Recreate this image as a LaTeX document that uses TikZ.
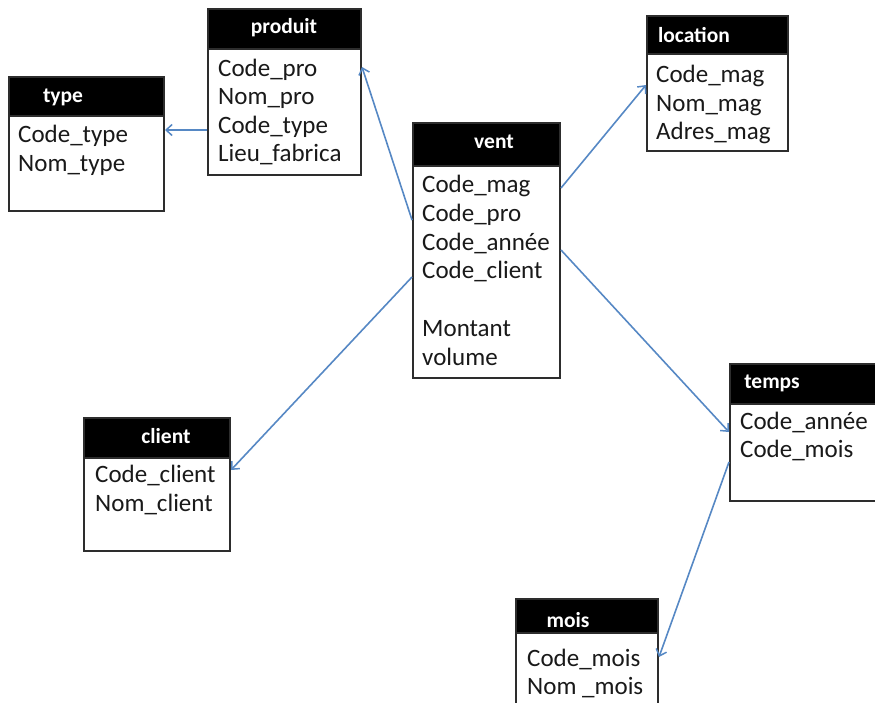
\documentclass[tikz,border=0pt]{standalone}
\usepackage{fontspec}
\setmainfont{Carlito}
\usetikzlibrary{arrows.meta}
\definecolor{linkblue}{RGB}{86,136,196}
\definecolor{boxline}{RGB}{45,45,45}
\tikzset{
  tablebox/.style={draw=boxline, line width=2pt, fill=white, anchor=north west, inner sep=0pt},
  tablehead/.style={draw=boxline, line width=2pt, fill=black, anchor=north west, inner sep=0pt},
  tabletitle/.style={text=white, font=\fontsize{21.5}{24}\selectfont\bfseries, inner sep=0pt, anchor=center},
  field/.style={font=\fontsize{25}{28}\selectfont, text=black!90, inner sep=0pt, anchor=base west},
  link/.style={draw=linkblue, line width=1.6pt, -{Straight Barb[length=6pt,width=11pt,line width=1.5pt]}}
}
\begin{document}
\begin{tikzpicture}[x=1pt,y=-1pt]
\useasboundingbox (0,0) rectangle (875,702);

% produit
\node[tablebox, minimum width=153pt, minimum height=166pt] (produit) at (207,8) {};
\node[tablehead, minimum width=153pt, minimum height=40pt] (produit-h) at (produit.north west) {};
\node[tabletitle] (produit-t) at (284,28) {produit};
\node[field] (produit-1) at (218,76) {Code\_pro};
\node[field] (produit-2) at (218,104.5) {Nom\_pro};
\node[field] (produit-3) at (218,133) {Code\_type};
\node[field] (produit-4) at (218,161.5) {Lieu\_fabrica};

% type
\node[tablebox, minimum width=155pt, minimum height=134pt] (type) at (8,76) {};
\node[tablehead, minimum width=155pt, minimum height=39pt] (type-h) at (type.north west) {};
\node[tabletitle] (type-t) at (63,97) {type};
\node[field] (type-1) at (18,142) {Code\_type};
\node[field] (type-2) at (18,171) {Nom\_type};

% vent
\node[tablebox, minimum width=147pt, minimum height=255pt] (vent) at (412,122) {};
\node[tablehead, minimum width=147pt, minimum height=43pt] (vent-h) at (vent.north west) {};
\node[tabletitle] (vent-t) at (494,142) {vent};
\node[field] (vent-1) at (422,192) {Code\_mag};
\node[field] (vent-2) at (422,221) {Code\_pro};
\node[field] (vent-3) at (422,250) {Code\_année};
\node[field] (vent-4) at (422,278) {Code\_client};
\node[field] (vent-5) at (422,336) {Montant};
\node[field] (vent-6) at (422,365) {volume};

% location
\node[tablebox, minimum width=141pt, minimum height=135pt] (location) at (646,15) {};
\node[tablehead, minimum width=141pt, minimum height=38pt] (location-h) at (location.north west) {};
\node[tabletitle] (location-t) at (694,35) {location};
\node[field] (location-1) at (656,82) {Code\_mag};
\node[field] (location-2) at (656,111) {Nom\_mag};
\node[field] (location-3) at (656,139.5) {Adres\_mag};

% temps
\node[tablebox, minimum width=150pt, minimum height=137pt] (temps) at (729,363) {};
\node[tablehead, minimum width=150pt, minimum height=40pt] (temps-h) at (temps.north west) {};
\node[tabletitle] (temps-t) at (772,383) {temps};
\node[field] (temps-1) at (740,429) {Code\_année};
\node[field] (temps-2) at (740,457.5) {Code\_mois};

% client
\node[tablebox, minimum width=146pt, minimum height=133pt] (client) at (83,417) {};
\node[tablehead, minimum width=146pt, minimum height=40pt] (client-h) at (client.north west) {};
\node[tabletitle] (client-t) at (166,436) {client};
\node[field] (client-1) at (95,482) {Code\_client};
\node[field] (client-2) at (95,511) {Nom\_client};

% mois
\node[tablebox, minimum width=142pt, minimum height=112pt] (mois) at (515,598) {};
\node[tablehead, minimum width=142pt, minimum height=34pt] (mois-h) at (mois.north west) {};
\node[tabletitle] (mois-t) at (568,620) {mois};
\node[field] (mois-1) at (527,666) {Code\_mois};
\node[field] (mois-2) at (527,694) {Nom \_mois};

% links between tables
\draw[link] ([yshift=-98pt]vent.north west) -- ([yshift=-59pt]produit.north east);
\draw[link] ([yshift=-122pt]produit.north west) -- ([yshift=-54pt]type.north east);
\draw[link] ([yshift=-66pt]vent.north east) -- ([yshift=-70pt]location.north west);
\draw[link] ([yshift=-128pt]vent.north east) -- ([yshift=-69pt]temps.north west);
\draw[link] ([yshift=-155pt]vent.north west) -- ([yshift=-53pt]client.north east);
\draw[link] ([yshift=-99pt]temps.north west) -- ([yshift=-59pt]mois.north east);
\end{tikzpicture}
\end{document}
